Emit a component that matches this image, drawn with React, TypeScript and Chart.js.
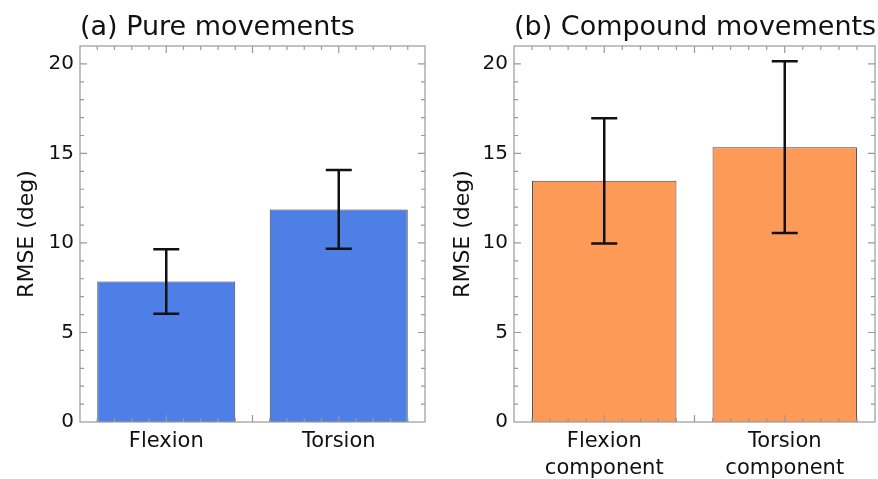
import React, { useEffect, useRef } from "react";
import { Chart, registerables } from "chart.js";

Chart.register(...registerables);

const FONT = '"DejaVu Sans", Verdana, sans-serif';

// Panel (a) data
const pureTitle = "(a) Pure movements";
const pureLabels = ["Flexion", "Torsion"];
const pureMeans = [7.85, 11.87];
const pureSD = [1.8, 2.2];

// Panel (b) data
const compoundTitle = "(b) Compound movements";
const compoundLabels = [
  ["Flexion", "component"],
  ["Torsion", "component"],
];
const compoundMeans = [13.47, 15.35];
const compoundSD = [3.5, 4.8];

const yAxisTitle = "RMSE (deg)";
const yMin = 0;
const yMax = 21;
const yStep = 5;

function makeDecor(title: string, sd: number[]) {
  return {
    id: "decor",
    afterDatasetsDraw(chart: any) {
      const ctx = chart.ctx;
      const xs = chart.scales.x;
      const ys = chart.scales.y;
      const data = chart.data.datasets[0].data as number[];
      ctx.save();
      ctx.strokeStyle = "#111";
      ctx.lineWidth = 2.5;
      data.forEach((v, i) => {
        const px = xs.getPixelForValue(i);
        const top = ys.getPixelForValue(v + sd[i]);
        const bot = ys.getPixelForValue(v - sd[i]);
        const cap = 13;
        ctx.beginPath();
        ctx.moveTo(px, top);
        ctx.lineTo(px, bot);
        ctx.moveTo(px - cap, top);
        ctx.lineTo(px + cap, top);
        ctx.moveTo(px - cap, bot);
        ctx.lineTo(px + cap, bot);
        ctx.stroke();
      });
      ctx.restore();
    },
    afterDraw(chart: any) {
      const ctx = chart.ctx;
      const a = chart.chartArea;
      const xs = chart.scales.x;
      const ys = chart.scales.y;
      ctx.save();
      ctx.strokeStyle = "#999";
      ctx.lineWidth = 1.2;
      ctx.strokeRect(a.left, a.top, a.right - a.left, a.bottom - a.top);
      ctx.beginPath();
      // y ticks (left and right)
      for (let v = yMin + 1; v < yMax; v++) {
        const py = ys.getPixelForValue(v);
        const len = v % yStep === 0 ? 7 : 4;
        ctx.moveTo(a.left, py);
        ctx.lineTo(a.left + len, py);
        ctx.moveTo(a.right, py);
        ctx.lineTo(a.right - len, py);
      }
      // x ticks (bottom and top)
      const n = chart.data.labels.length;
      const steps = n * 10;
      for (let k = 1; k < steps; k++) {
        const val = -0.5 + k * 0.1;
        const px = xs.getPixelForValue(val);
        const len = k % 5 === 0 ? 7 : 4;
        ctx.moveTo(px, a.bottom);
        ctx.lineTo(px, a.bottom - len);
        ctx.moveTo(px, a.top);
        ctx.lineTo(px, a.top + len);
      }
      ctx.stroke();
      // panel title
      ctx.fillStyle = "#111";
      ctx.font = `27px ${FONT}`;
      ctx.textAlign = "left";
      ctx.textBaseline = "alphabetic";
      ctx.fillText(title, a.left, 35);
      ctx.restore();
    },
  };
}

function Panel(props: {
  labels: any[];
  means: number[];
  sd: number[];
  title: string;
  color: string;
  axisWidth: number;
  padRight: number;
  titlePad: number;
}) {
  const ref = useRef<HTMLCanvasElement>(null);
  useEffect(() => {
    if (!ref.current) return;
    Chart.defaults.font.family = FONT;
    const chart = new Chart(ref.current, {
      type: "bar",
      data: {
        labels: props.labels,
        datasets: [
          {
            data: props.means,
            backgroundColor: props.color,
            borderColor: "#444",
            borderWidth: 1,
            barPercentage: 0.8,
            categoryPercentage: 1,
          },
        ],
      },
      options: {
        responsive: false,
        animation: false,
        layout: { padding: { top: 46, right: props.padRight, left: 0, bottom: 0 } },
        plugins: {
          legend: { display: false },
          tooltip: { enabled: false },
          title: { display: false },
        },
        scales: {
          x: {
            grid: { display: false, drawTicks: false },
            border: { display: false },
            ticks: {
              font: { family: FONT, size: 21, lineHeight: 1.24 },
              color: "#111",
              padding: 7,
              maxRotation: 0,
              autoSkip: false,
            },
            afterFit: (s: any) => {
              s.height = 57;
            },
          },
          y: {
            min: yMin,
            max: yMax,
            grid: { display: false, drawTicks: false },
            border: { display: false },
            ticks: {
              stepSize: yStep,
              includeBounds: false,
              font: { family: FONT, size: 20 },
              color: "#111",
              padding: 6,
            },
            title: {
              display: true,
              text: yAxisTitle,
              font: { family: FONT, size: 22 },
              color: "#111",
              padding: { top: props.titlePad, bottom: 0 },
            },
            afterFit: (s: any) => {
              s.width = props.axisWidth;
            },
          },
        },
      },
      plugins: [makeDecor(props.title, props.sd)],
    } as any);
    return () => chart.destroy();
  }, []);
  return <canvas ref={ref} width={439} height={479} style={{ display: "block" }} />;
}

export default function App() {
  return (
    <div
      style={{
        position: "fixed",
        left: 0,
        top: 0,
        width: 878,
        height: 479,
        background: "#fff",
        display: "flex",
      }}
    >
      <Panel
        labels={pureLabels}
        means={pureMeans}
        sd={pureSD}
        title={pureTitle}
        color="#4d7fe6"
        axisWidth={80}
        padRight={14}
        titlePad={14}
      />
      <Panel
        labels={compoundLabels}
        means={compoundMeans}
        sd={compoundSD}
        title={compoundTitle}
        color="#fe9a58"
        axisWidth={75}
        padRight={3}
        titlePad={11}
      />
    </div>
  );
}
